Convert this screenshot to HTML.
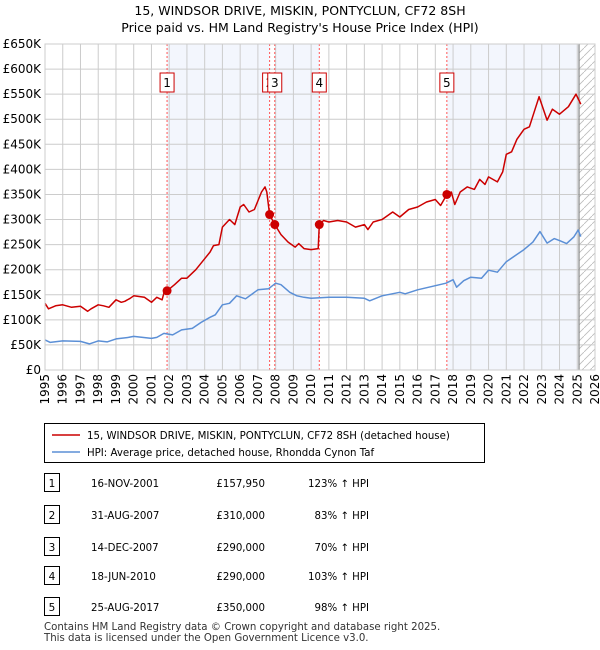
<!DOCTYPE html>
<html><head><meta charset="utf-8"><style>
body{margin:0;background:#fff;font-family:"DejaVu Sans","Liberation Sans",sans-serif;}
#wrap{position:relative;width:600px;height:650px;overflow:hidden}
</style></head><body><div id="wrap">
<svg id="chart" width="600" height="650" style="position:absolute;left:0;top:0"></svg>
</div>
<script>
const sales=[2001.88,2007.66,2007.95,2010.46,2017.65];
const saleValues=[157950,310000,290000,290000,350000];
const saleLabels=["1","2","3","4","5"];
const saleDates=["16-NOV-2001","31-AUG-2007","14-DEC-2007","18-JUN-2010","25-AUG-2017"];
const salePrices=["£157,950","£310,000","£290,000","£290,000","£350,000"];
const salePct=["123% ↑ HPI","83% ↑ HPI","70% ↑ HPI","103% ↑ HPI","98% ↑ HPI"];
const redX=[1995,1995.2,1995.6,1996,1996.5,1997,1997.4,1997.6,1998,1998.3,1998.6,1999,1999.3,1999.5,1999.8,2000,2000.6,2001,2001.3,2001.6,2001.75,2001.88,2002.3,2002.7,2003,2003.5,2004,2004.3,2004.5,2004.8,2005,2005.4,2005.7,2006,2006.2,2006.5,2006.8,2007.2,2007.4,2007.5,2007.66,2007.8,2007.95,2008.3,2008.7,2009.1,2009.3,2009.6,2010,2010.4,2010.46,2010.7,2011,2011.5,2012,2012.5,2013,2013.2,2013.5,2014,2014.6,2015,2015.5,2016,2016.5,2017,2017.3,2017.65,2017.9,2018.1,2018.4,2018.8,2019.2,2019.5,2019.8,2020,2020.5,2020.8,2021,2021.3,2021.6,2022,2022.3,2022.85,2023.3,2023.6,2024,2024.5,2024.93,2025.2];
const redY=[133,122,128,130,125,127,117,122,130,128,125,140,135,137,143,148,145,135,145,140,160,158,170,183,183,200,222,235,248,250,285,300,290,325,330,315,320,355,365,355,310,300,290,270,255,245,252,242,240,242,290,298,295,298,295,285,290,280,295,300,315,305,320,325,335,340,328,350,355,330,355,365,360,380,370,385,375,395,430,435,460,480,485,545,498,520,510,525,550,530];
const blueX=[1995,1995.3,1996,1997,1997.5,1998,1998.5,1999,1999.7,2000,2001,2001.3,2001.7,2002.2,2002.7,2003.3,2003.8,2004.3,2004.6,2005,2005.4,2005.8,2006.3,2007,2007.6,2008,2008.3,2008.8,2009.2,2009.6,2010,2011,2012,2013,2013.3,2014,2015,2015.3,2016,2017,2017.6,2018,2018.2,2018.6,2019,2019.6,2020,2020.5,2021,2021.5,2022,2022.5,2022.9,2023.3,2023.7,2024,2024.4,2024.8,2025.05,2025.2];
const blueY=[60,55,58,57,52,58,56,62,65,67,63,65,73,70,80,83,95,105,110,130,133,148,142,160,162,173,170,155,148,145,143,145,145,143,138,148,155,152,160,168,173,180,165,178,185,183,199,195,216,228,240,255,276,253,262,258,252,265,279,266];
const yTicks=[0,50,100,150,200,250,300,350,400,450,500,550,600,650];
const yTickLabels=["£0","£50K","£100K","£150K","£200K","£250K","£300K","£350K","£400K","£450K","£500K","£550K","£600K","£650K"];
const xTicks=[1995,1996,1997,1998,1999,2000,2001,2002,2003,2004,2005,2006,2007,2008,2009,2010,2011,2012,2013,2014,2015,2016,2017,2018,2019,2020,2021,2022,2023,2024,2025,2026];

const L=45,R=595,T=44,B=370;
const FONT='DejaVu Sans, Liberation Sans, sans-serif';
const xs=v=>L+(v-1995)/(2026-1995)*(R-L);
const ys=v=>B-v/650*(B-T);
const svg=document.getElementById('chart');
const NS="http://www.w3.org/2000/svg";
function mk(tag,attrs,parent){const e=document.createElementNS(NS,tag);for(const k in attrs)e.setAttribute(k,attrs[k]);(parent||svg).appendChild(e);return e;}
function txt(x,y,s,attrs){const e=mk('text',Object.assign({x:x,y:y,'font-size':12,'font-family':FONT,fill:'#000'},attrs||{}));e.textContent=s;return e;}

let t1=txt(300,15,"15, WINDSOR DRIVE, MISKIN, PONTYCLUN, CF72 8SH",{'text-anchor':'middle','font-size':12.5});

let t2=txt(300,32,"Price paid vs. HM Land Registry's House Price Index (HPI)",{'text-anchor':'middle','font-size':12.5});


const defs=mk('defs',{});
const pat=mk('pattern',{id:'hatch',width:8,height:8,patternUnits:'userSpaceOnUse'},defs);
mk('path',{d:'M0,8 L8,0',stroke:'#bbb','stroke-width':0.8},pat);

const bands=[[sales[0],sales[1]],[sales[2],sales[3]],[sales[4],2025.1]];
bands.forEach(b=>{const r=mk('rect',{x:xs(b[0]),y:T,width:xs(b[1])-xs(b[0]),height:B-T,fill:'#f3f6fd'});
});
let h=mk('rect',{x:xs(2025.1),y:T,width:R-xs(2025.1),height:B-T,fill:'url(#hatch)'});


yTicks.forEach((v,i)=>{let g=mk('line',{x1:L,x2:R,y1:ys(v),y2:ys(v),stroke:'#ccc','stroke-width':1});

let t=txt(L-4,ys(v)+4,yTickLabels[i],{'text-anchor':'end'});
});
xTicks.forEach(v=>{let g=mk('line',{x1:xs(v),x2:xs(v),y1:T,y2:B,stroke:'#ccc','stroke-width':1});

let t=txt(0,0,String(v),{'text-anchor':'end',transform:`translate(${xs(v)+4},${B+4}) rotate(-90)`});
});
let nl=mk('line',{x1:xs(2025.1),x2:xs(2025.1),y1:T,y2:B,stroke:'#888','stroke-width':1.2});


sales.forEach((s,i)=>{let l=mk('line',{x1:xs(s),x2:xs(s),y1:T,y2:B,stroke:'#f55','stroke-width':1,'stroke-dasharray':'2,2'});
});

function path(X,Y,color,name){const d=X.map((x,i)=>(i?'L':'M')+xs(x).toFixed(1)+','+ys(Y[i]).toFixed(1)).join(' ');
const p=mk('path',{d:d,fill:'none',stroke:color,'stroke-width':1.5,'stroke-linejoin':'round'});
}
path(blueX,blueY,'#5b8fd6','hpi-line');
path(redX,redY,'#cc0000','price-paid-line');

sales.forEach((s,i)=>{let c=mk('circle',{cx:xs(s),cy:ys(saleValues[i]/1000),r:4.5,fill:'#cc0000'});

let r=mk('rect',{x:xs(s)-7,y:73,width:14,height:19,fill:'#fff',stroke:'#cc0000','stroke-width':1});

let t=txt(xs(s),87,saleLabels[i],{'text-anchor':'middle'});
});
let fr=mk('rect',{x:L,y:T,width:R-L,height:B-T,fill:'none',stroke:'#ccc'});


let lg=mk('rect',{x:44.5,y:423.5,width:440,height:39,fill:'#fff',stroke:'#000'});

let l1=mk('line',{x1:52,x2:80,y1:435,y2:435,stroke:'#cc0000','stroke-width':1.5});

let lt1=txt(87,439,"15, WINDSOR DRIVE, MISKIN, PONTYCLUN, CF72 8SH (detached house)",{'font-size':10.2});

let l2=mk('line',{x1:52,x2:80,y1:452,y2:452,stroke:'#5b8fd6','stroke-width':1.5});

let lt2=txt(87,456,"HPI: Average price, detached house, Rhondda Cynon Taf",{'font-size':10.2});


const rowY=[483,515,547,576,607];
sales.forEach((s,i)=>{const y=rowY[i];
let b=mk('rect',{x:44.5,y:y-9.5,width:15,height:18,fill:'#fff',stroke:'#000'});

let n=txt(52,y+4,saleLabels[i],{'text-anchor':'middle','font-size':10.5});

let d=txt(91,y+4,saleDates[i],{'font-size':10.2});

let p=txt(265,y+4,salePrices[i],{'text-anchor':'end','font-size':10.2});

let c=txt(369,y+4,salePct[i],{'text-anchor':'end','font-size':10.2});
});

let f1=txt(44,630,"Contains HM Land Registry data © Crown copyright and database right 2025.",{'font-size':10.2,fill:'#333'});

let f2=txt(44,641,"This data is licensed under the Open Government Licence v3.0.",{'font-size':10.2,fill:'#333'});

</script></body></html>
